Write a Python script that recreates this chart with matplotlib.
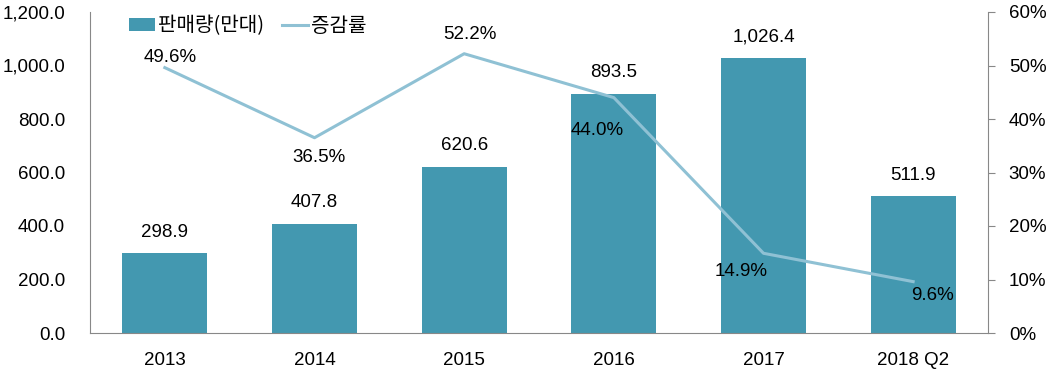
import matplotlib
matplotlib.use("Agg")
import matplotlib.pyplot as plt
from matplotlib.ticker import FuncFormatter

plt.rcParams['font.family'] = ['Liberation Sans', 'Noto Sans CJK KR', 'DejaVu Sans']

categories = ["2013", "2014", "2015", "2016", "2017", "2018 Q2"]
sales = [298.9, 407.8, 620.6, 893.5, 1026.4, 511.9]
growth = [49.6, 36.5, 52.2, 44.0, 14.9, 9.6]
sales_name = "판매량(만대)"
growth_name = "증감률"

bar_color = "#4398b0"
line_color = "#8fc1d4"
spine_color = "#888888"
fs = 13.5

fig = plt.figure(figsize=(10.49, 3.74), dpi=100)
ax = fig.add_axes([90/1049, 41/374, 898/1049, 321/374])
x = list(range(len(categories)))
ax.bar(x, sales, width=0.57, color=bar_color, label=sales_name, zorder=2)
ax.set_xlim(-0.5, len(categories) - 0.5)
ax.set_ylim(0, 1200)
ax.set_yticks(range(0, 1201, 200))
ax.yaxis.set_major_formatter(FuncFormatter(lambda v, p: f"{v:,.1f}"))
ax.set_xticks(x)
ax.set_xticklabels(categories)
ax.tick_params(axis='x', length=0, pad=14, labelsize=fs)
ax.tick_params(axis='y', length=0, labelsize=fs, pad=18)
for s in ['top', 'right']:
    ax.spines[s].set_visible(False)
for s in ['left', 'bottom']:
    ax.spines[s].set_color(spine_color)

for xi, v in zip(x, sales):
    ax.annotate(f"{v:,.1f}", (xi, v), xytext=(0, 9), textcoords='offset points',
                ha='center', va='bottom', fontsize=fs)

ax2 = ax.twinx()
ax2.plot(x, growth, color=line_color, linewidth=2.2, label=growth_name, zorder=3)
ax2.set_ylim(0, 60)
ax2.set_yticks(range(0, 61, 10))
ax2.yaxis.set_major_formatter(FuncFormatter(lambda v, p: f"{v:.0f}%"))
ax2.tick_params(axis='y', length=5, color=spine_color, labelsize=fs, pad=10)
for s in ['top', 'left', 'bottom']:
    ax2.spines[s].set_visible(False)
ax2.spines['right'].set_color(spine_color)

offsets = [(4, 7), (3, -14), (4, 14), (-12, -24), (-16, -13), (14, -10)]
for xi, g, off in zip(x, growth, offsets):
    ax2.annotate(f"{g:.1f}%", (xi, g), xytext=off, textcoords='offset points',
                 ha='center', va='center', fontsize=fs)

h1, l1 = ax.get_legend_handles_labels()
h2, l2 = ax2.get_legend_handles_labels()
leg = ax.legend(h1 + h2, l1 + l2, loc='upper left', bbox_to_anchor=(0.028, 1.033),
                ncol=2, frameon=False, fontsize=14.5, handlelength=1.3,
                handleheight=0.6, columnspacing=0.85, handletextpad=0.15,
                borderaxespad=0.3)
for t in leg.get_texts():
    t.set_family(['Noto Sans CJK KR', 'DejaVu Sans'])

fig.savefig("out.png", dpi=100)
